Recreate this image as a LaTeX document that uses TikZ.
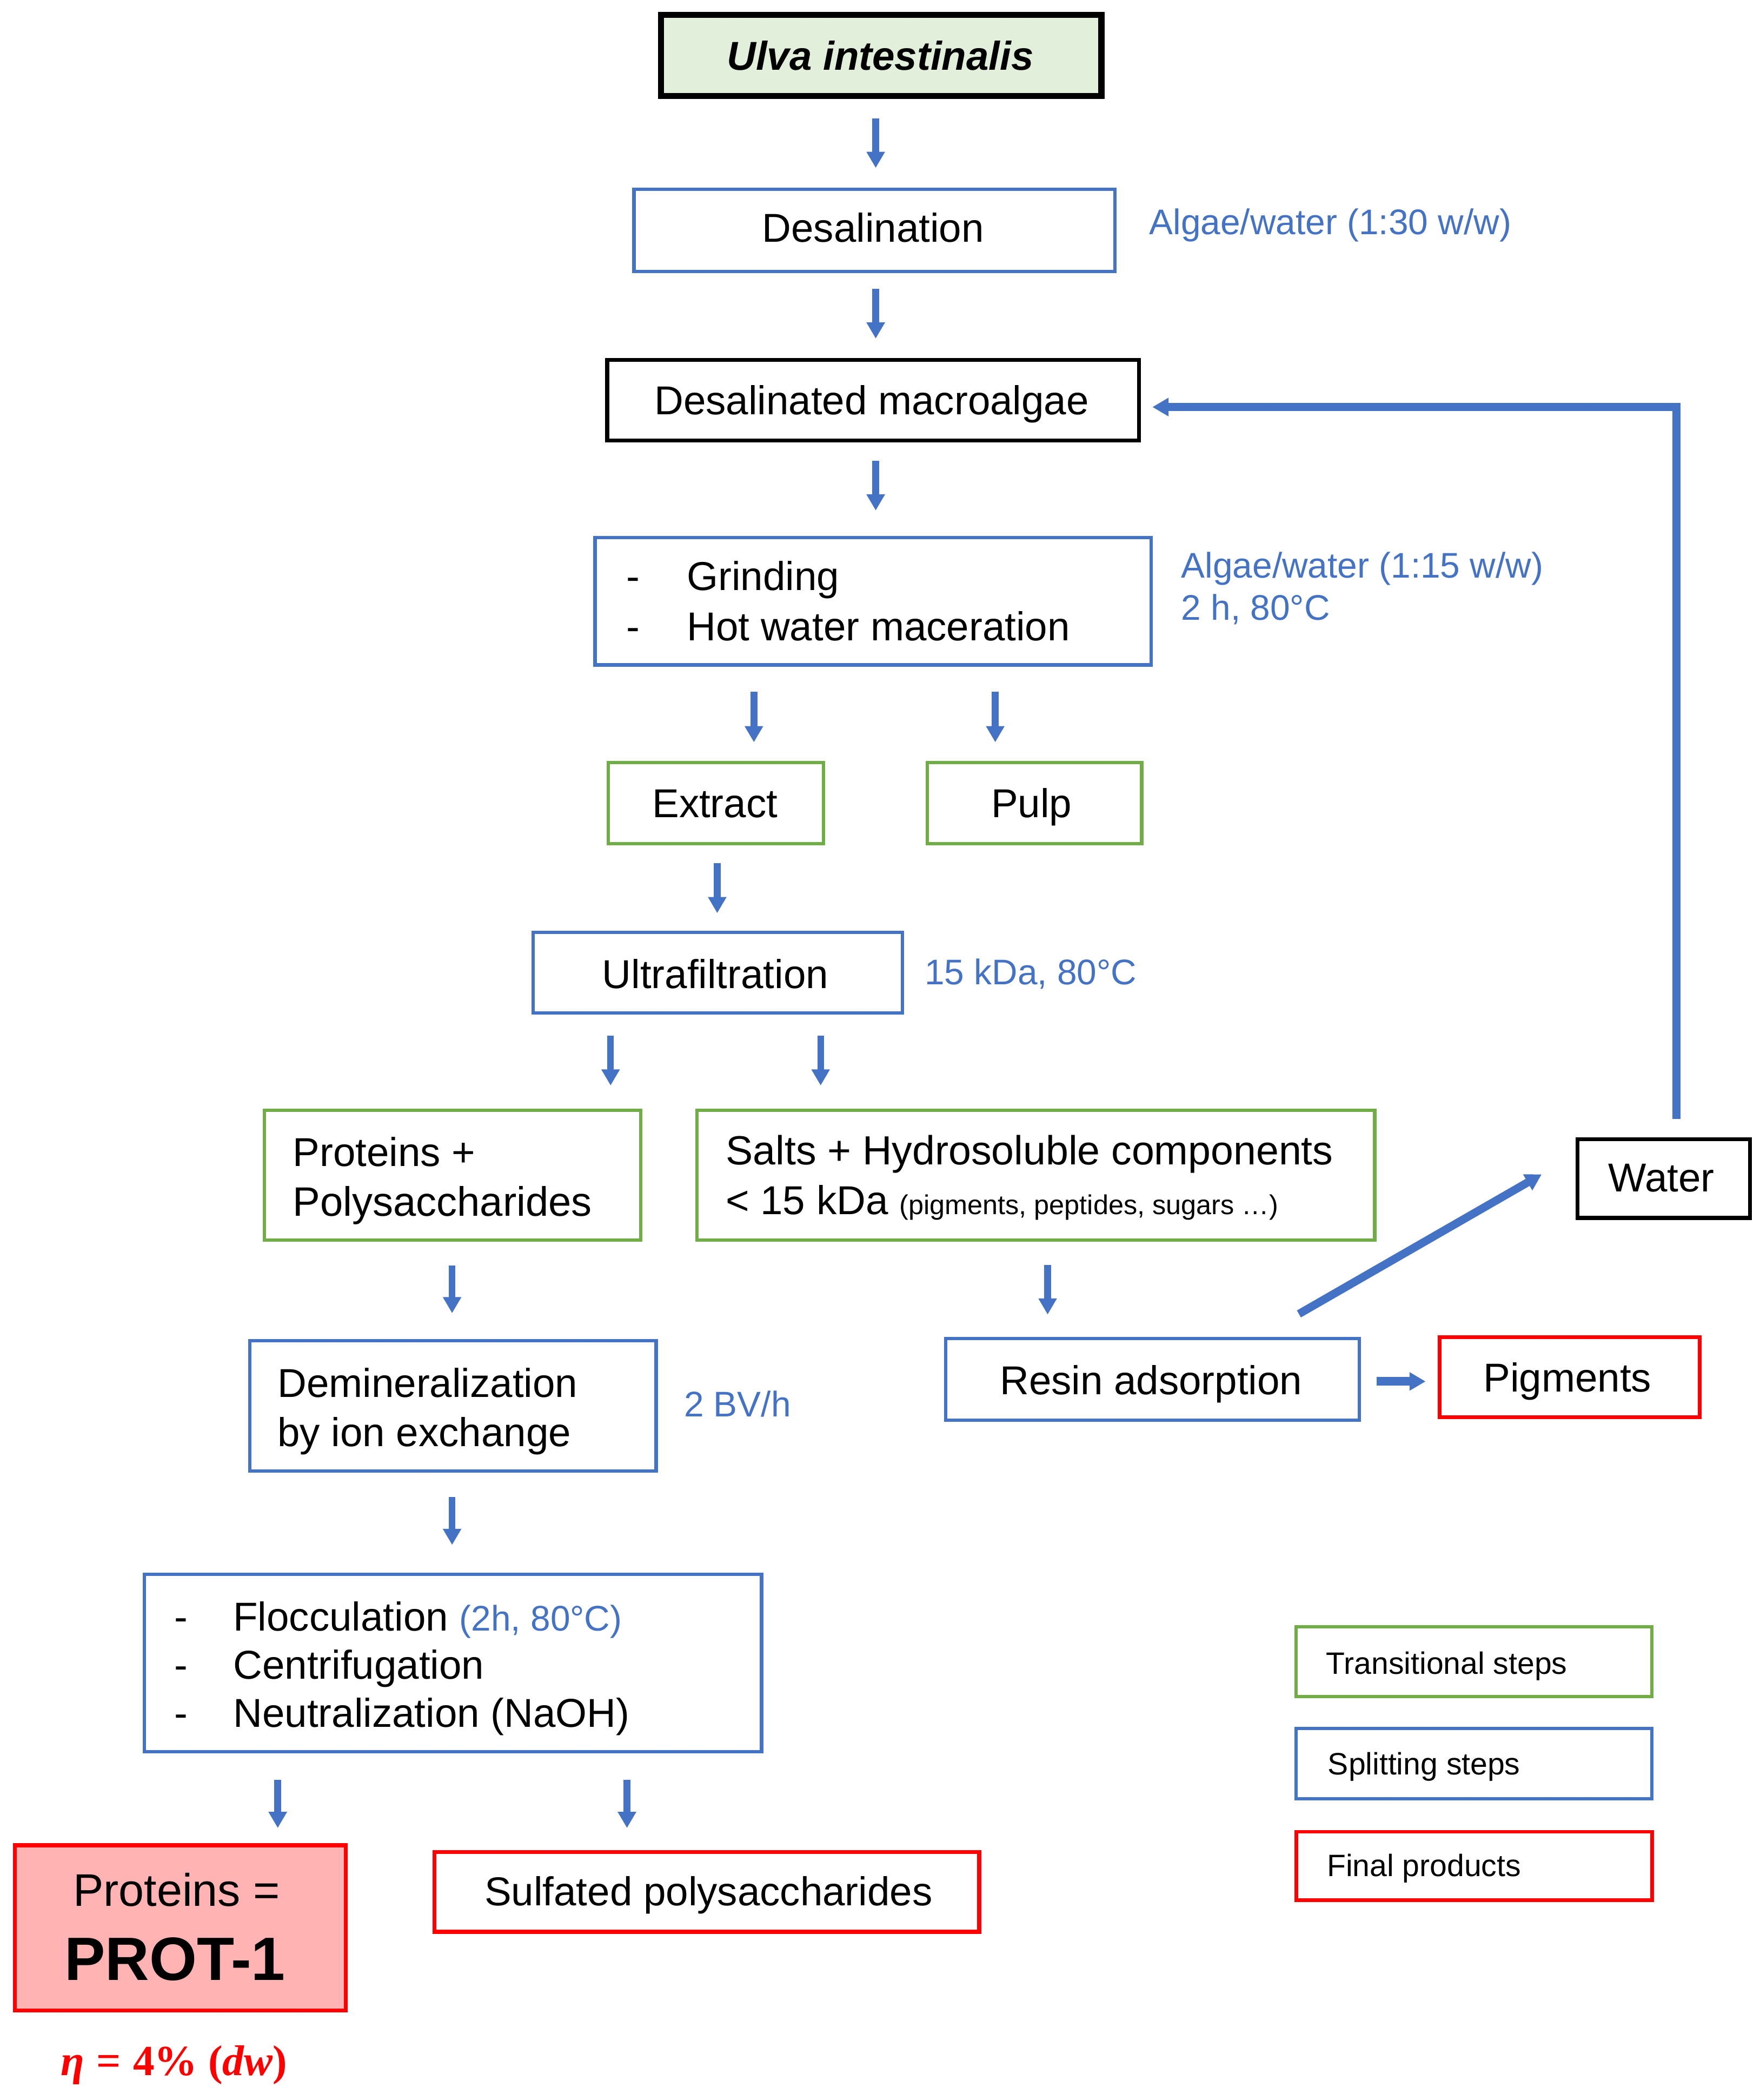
\documentclass[tikz,border=0pt]{standalone}
\usepackage[no-math]{fontspec}
\setmainfont{Liberation Sans}
\newfontfamily\etaserif{Liberation Serif}
\usetikzlibrary{arrows.meta,calc}
\definecolor{cblue}{HTML}{4472C4}
\definecolor{cgreen}{HTML}{70AD47}
\definecolor{cred}{HTML}{FF0000}
\definecolor{cfill}{HTML}{E2EFDA}
\definecolor{cpink}{HTML}{FFB3B3}
\newcommand\mainf{\fontsize{30}{36}\selectfont}
\newcommand\lblf{\fontsize{26.5}{32}\selectfont}
\newcommand\legf{\fontsize{23}{28}\selectfont}
\begin{document}
\begin{tikzpicture}[x=1pt,y=-1pt,
  boxbase/.style={rectangle, inner sep=0pt, outer sep=0pt},
  bbox/.style={boxbase, draw=cblue, line width=2.5pt},
  gbox/.style={boxbase, draw=cgreen, line width=2.5pt},
  rbox/.style={boxbase, draw=cred, line width=3pt},
  kbox/.style={boxbase, draw=black, line width=3pt},
  txt/.style={inner sep=0pt, outer sep=0pt, font=\mainf},
  lbl/.style={inner sep=0pt, outer sep=0pt, font=\lblf, text=cblue},
  legt/.style={inner sep=0pt, outer sep=0pt, font=\legf},
  varr/.style={draw=cblue, line width=5pt, -{Triangle[width=13pt,length=12pt]}},
  tarr/.style={draw=cblue, line width=6pt, line join=miter, -{Triangle[width=13pt,length=12pt]}}
]
\fill[white] (0,0) rectangle (1310,1563.2);
\useasboundingbox (0,0) rectangle (1310,1563.2);

% ---------- boxes ----------
\node[kbox, line width=4.5pt, fill=cfill, minimum width=328pt, minimum height=60.5pt] (ulva) at (656,41.25) {};
\node[bbox, minimum width=358pt, minimum height=61pt] (desal) at (651,171.5) {};
\node[kbox, minimum width=396pt, minimum height=60pt] (macro) at (650,298) {};
\node[bbox, minimum width=414pt, minimum height=95pt] (grind) at (650,447.5) {};
\node[gbox, minimum width=160pt, minimum height=60.5pt] (extract) at (533,597.75) {};
\node[gbox, minimum width=159.5pt, minimum height=60.5pt] (pulp) at (770.25,597.75) {};
\node[bbox, minimum width=275pt, minimum height=60pt] (ultra) at (534.5,724) {};
\node[gbox, minimum width=280pt, minimum height=96.5pt] (protpoly) at (337,874.75) {};
\node[gbox, minimum width=504.5pt, minimum height=96.5pt] (salts) at (771.25,874.75) {};
\node[kbox, minimum width=128.5pt, minimum height=58.5pt] (water) at (1238.75,877.25) {};
\node[bbox, minimum width=302.5pt, minimum height=97pt] (demin) at (337.25,1046.5) {};
\node[bbox, minimum width=308pt, minimum height=60.5pt] (resin) at (858,1026.75) {};
\node[rbox, line width=2.8pt, minimum width=193.5pt, minimum height=59.5pt] (pig) at (1168.75,1025.25) {};
\node[bbox, minimum width=459.5pt, minimum height=132pt] (floc) at (337.25,1238) {};
\node[rbox, fill=cpink, minimum width=246.5pt, minimum height=123pt] (prot1) at (134.25,1435) {};
\node[rbox, minimum width=405.5pt, minimum height=59.5pt] (sulf) at (526.25,1408.25) {};
\node[gbox, minimum width=265pt, minimum height=52pt] (leg1) at (1097.5,1237) {};
\node[bbox, minimum width=265pt, minimum height=52.5pt] (leg2) at (1097.5,1312.75) {};
\node[rbox, line width=2.8pt, minimum width=265pt, minimum height=51pt] (leg3) at (1097.5,1389) {};

% ---------- texts ----------
\node[txt, anchor=base, font=\mainf\bfseries\itshape] (ulvat) at (655.4,52) {Ulva intestinalis};
\node[txt, anchor=base] (desalt) at (650,180.3) {Desalination};
\node[lbl, anchor=base west] (lbl1) at (855.7,174.5) {Algae/water (1:30 w/w)};
\node[txt, anchor=base] (macrot) at (649,308.5) {Desalinated macroalgae};
\node[txt, anchor=base west] (grindt) at (466.5,439.5)
  {\vtop{\baselineskip=37.5pt\hbox{\makebox[45pt][l]{-}Grinding}\hbox{\makebox[45pt][l]{-}Hot water maceration}}};
\node[lbl, anchor=base west] (lbl2) at (879.5,430)
  {\vtop{\baselineskip=31.4pt\hbox{Algae/water (1:15 w/w)}\hbox{2 h, 80°C}}};
\node[txt, anchor=base] (extractt) at (532.3,608.3) {Extract};
\node[txt, anchor=base] (pulpt) at (768,608.3) {Pulp};
\node[txt, anchor=base] (ultrat) at (532.6,735.5) {Ultrafiltration};
\node[lbl, anchor=base west] (lbl3) at (688.5,733) {15 kDa, 80°C};
\node[txt, anchor=base west] (protpolyt) at (218,868)
  {\vtop{\baselineskip=37pt\hbox{Proteins +}\hbox{\fontsize{30.6}{36}\selectfont Polysaccharides}}};
\node[txt, anchor=base west] (saltst) at (540.4,867)
  {\vtop{\baselineskip=37pt\hbox{\fontsize{30.3}{36}\selectfont Salts + Hydrosoluble components}\hbox{< 15 kDa {\fontsize{20.3}{24}\selectfont (pigments, peptides, sugars …)}}}};
\node[txt, anchor=base] (watert) at (1237,887) {Water};
\node[txt, anchor=base west] (demint) at (206.7,1040)
  {\vtop{\baselineskip=36.5pt\hbox{Demineralization}\hbox{by ion exchange}}};
\node[lbl, anchor=base west] (lbl4) at (509.3,1054.6) {2 BV/h};
\node[txt, anchor=base] (resint) at (857,1038) {Resin adsorption};
\node[txt, anchor=base] (pigt) at (1167,1036) {Pigments};
\node[txt, anchor=base west] (floct) at (129.7,1214)
  {\vtop{\baselineskip=35.8pt
    \hbox{\makebox[44pt][l]{-}Flocculation {\lblf\color{cblue}(2h, 80°C)}}
    \hbox{\makebox[44pt][l]{-}Centrifugation}
    \hbox{\makebox[44pt][l]{-}Neutralization (NaOH)}}};
\node[txt, anchor=base, font=\fontsize{34}{40}\selectfont] (prot1a) at (131.5,1419) {Proteins =};
\node[txt, anchor=base, font=\fontsize{45.5}{52}\selectfont\bfseries] (prot1b) at (130.3,1474) {PROT-1};
\node[txt, anchor=base] (sulft) at (527.5,1418.3) {Sulfated polysaccharides};
\node[inner sep=0pt, outer sep=0pt, anchor=base, text=cred, font=\fontsize{32}{38}\selectfont\etaserif\bfseries] (etat) at (129.5,1545)
  {{\itshape η}\hspace{9pt}=\hspace{9pt}4\%\hspace{8pt}({\itshape dw})};
\node[legt, anchor=base west] (leg1t) at (987.5,1246) {Transitional steps};
\node[legt, anchor=base west] (leg2t) at (988.7,1321) {Splitting steps};
\node[legt, anchor=base west] (leg3t) at (988,1396.6) {Final products};

% ---------- arrows ----------
\draw[varr, shorten <=16.5pt, shorten >=16pt] (ulva.south -| 652,0) -- (desal.north -| 652,0);
\draw[varr, shorten <=13pt, shorten >=16pt] (desal.south -| 652,0) -- (macro.north -| 652,0);
\draw[varr, shorten <=15pt, shorten >=20pt] (macro.south -| 652,0) -- (grind.north -| 652,0);
\draw[varr, shorten <=20pt, shorten >=15pt] (grind.south -| 561.3,0) -- (extract.north -| 561.3,0);
\draw[varr, shorten <=20pt, shorten >=15pt] (grind.south -| 741,0) -- (pulp.north -| 741,0);
\draw[varr, shorten <=14.5pt, shorten >=14.3pt] (extract.south -| 534,0) -- (ultra.north -| 534,0);
\draw[varr, shorten <=17pt, shorten >=18.5pt] (ultra.south -| 454.6,0) -- (protpoly.north -| 454.6,0);
\draw[varr, shorten <=17pt, shorten >=18.5pt] (ultra.south -| 611,0) -- (salts.north -| 611,0);
\draw[varr, shorten <=19pt, shorten >=20.5pt] (protpoly.south -| 336.6,0) -- (demin.north -| 336.6,0);
\draw[varr, shorten <=18.6pt, shorten >=18pt] (salts.south -| 780,0) -- (resin.north -| 780,0);
\draw[varr, shorten <=19.3pt, shorten >=22pt] (demin.south -| 336.6,0) -- (floc.north -| 336.6,0);
\draw[varr, shorten <=21pt, shorten >=12.8pt] (floc.south -| 206.8,0) -- (prot1.north -| 206.8,0);
\draw[varr, shorten <=21pt, shorten >=17.8pt] (floc.south -| 466.8,0) -- (sulf.north -| 466.8,0);
% resin -> pigments
\draw[tarr, line width=6.5pt, shorten <=13pt, shorten >=10.6pt] (resin.east |- 0,1028.3) -- (pig.west |- 0,1028.3);
% resin -> water (diagonal)
\draw[tarr, shorten <=37pt, shorten >=30.8pt] (resin.north -| 935,0) -- (water.west |- 0,858.8);
% water -> desalinated macroalgae (loop)
\coordinate (loopc) at (1248,303);
\draw[tarr, shorten >=10pt] ([yshift=15pt]water.north -| loopc) -- (loopc) -- (macro.east |- loopc);
\end{tikzpicture}
\end{document}
